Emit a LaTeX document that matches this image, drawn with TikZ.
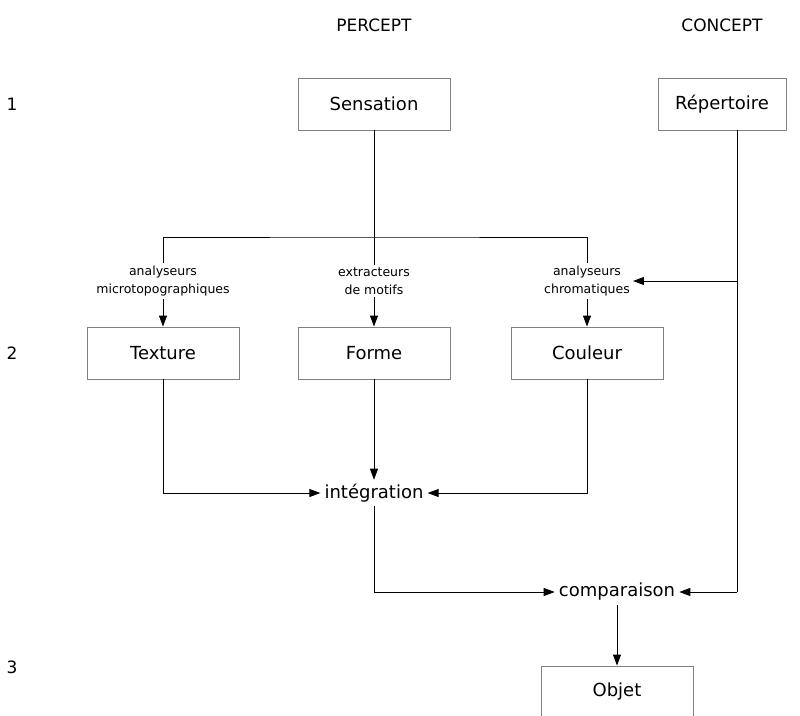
\documentclass[tikz,border=0pt]{standalone}
\usepackage{fontspec}
\setmainfont{DejaVu Sans}
\usetikzlibrary{arrows.meta,calc}

\tikzset{
  stage/.style={draw=black!50, line width=0.9pt, minimum width=152pt, minimum height=52pt,
    inner sep=0pt, font=\fontsize{18}{21}\selectfont},
  proc/.style={inner sep=4pt, font=\fontsize{18}{21}\selectfont},
  tool/.style={align=center, inner sep=3pt, font=\fontsize{12.5}{17.5}\selectfont},
  heading/.style={font=\fontsize{17}{20}\selectfont},
  link/.style={line width=0.9pt, black},
  flow/.style={link, -{Triangle[length=11pt,width=8pt]}},
}

\begin{document}
\begin{tikzpicture}[x=1pt, y=-1pt]
  \useasboundingbox (0,0) rectangle (800,715);
  \clip (0,0) rectangle (800,715);

  % column and row headings
  \node[heading] (hpercept) at (374,25) {PERCEPT};
  \node[heading] (hconcept) at (722,25) {CONCEPT};
  \node[heading] (row1) at (12,104) {1};
  \node[heading] (row2) at (12,353) {2};
  \node[heading] (row3) at (12,667) {3};

  % boxes
  \node[stage] (sensation) at (374,104) {Sensation};
  \node[stage, minimum width=128pt] (repertoire) at (722,104) {Répertoire};
  \node[stage] (texture) at (163,353) {Texture};
  \node[stage] (forme) at (374,353) {Forme};
  \node[stage] (couleur) at (587,353) {Couleur};
  \node[stage] (objet) at (617,692) {Objet};

  % processing stages
  \node[tool] (microtopo) at (163,281) {analyseurs\\microtopographiques};
  \node[tool] (motifs) at (374,281) {extracteurs\\de motifs};
  \node[tool] (chroma) at (587,281) {analyseurs\\chromatiques};
  \node[proc] (integ) at (374,493) {intégration};
  \node[proc] (comp) at (617,592) {comparaison};

  % helper points
  \coordinate (bar) at (374,237);
  \coordinate (rtap) at (737,281);
  \coordinate (rend) at (737,592);

  % sensation fans out to the three analysers
  \draw[link] (sensation.south) -- (motifs.north);
  \draw[link] (microtopo.north) |- (bar) -| (chroma.north);
  \draw[flow] (microtopo.south) -- (texture.north);
  \draw[flow] (motifs.south) -- (forme.north);
  \draw[flow] (chroma.south) -- (couleur.north);

  % repertoire feeds colour analysis and comparison
  \draw[link] (repertoire.south -| rend) -- (rend);
  \draw[flow] (rtap) -- (chroma.east);
  \draw[flow] (rend) -- (comp.east);

  % integration
  \draw[flow] (texture.south) |- (integ.west);
  \draw[flow] (forme.south) -- (integ.north);
  \draw[flow] (couleur.south) |- (integ.east);

  % comparison and object
  \draw[flow] (integ.south) |- (comp.west);
  \draw[flow] (comp.south) -- (objet.north);
\end{tikzpicture}
\end{document}
